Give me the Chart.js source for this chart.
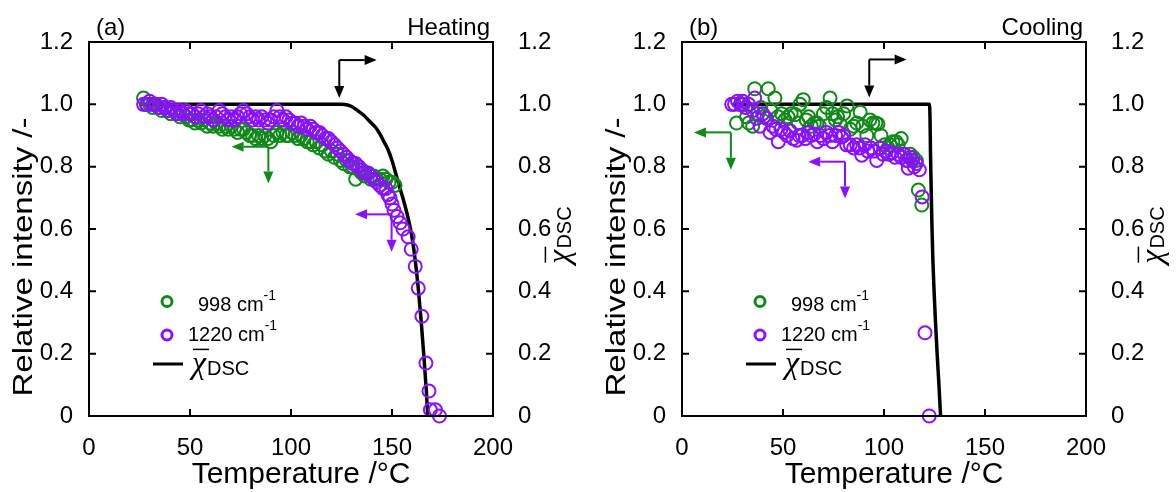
<!DOCTYPE html>
<html>
<head>
<meta charset="utf-8">
<script src="https://cdn.jsdelivr.net/npm/chart.js@4.4.0/dist/chart.umd.min.js"></script>
<style>
html, body { margin: 0; padding: 0; background: #fff; }
#wrap { position: relative; width: 1176px; height: 492px; overflow: hidden; }
.panel { position: absolute; top: 0; height: 492px; }
</style>
</head>
<body>
<div id="wrap">
  <div class="panel" style="left:0;width:590px"><canvas id="chartA"></canvas></div>
  <div class="panel" style="left:593px;width:583px"><canvas id="chartB"></canvas></div>
</div>
<script>
// axis ticks
const xTicks = [0, 50, 100, 150, 200];
const yTicks = [0, 0.2, 0.4, 0.6, 0.8, 1.0, 1.2];

// (a) heating - 998 cm-1
const heatTemp998 = [27,28.5,30,31.5,33,34.5,36,37.5,39,40.5,42,43.5,45,46.5,48,49.5,51,52.5,54,55.5,57,58.5,60,61.5,63,64.5,66,67.5,69,70.5,72,73.5,75,76.5,78,79.5,81,82.5,84,85.5,87,88.5,90,91.5,93,94.5,96,97.5,99,100.5,102,103.5,105,106.5,108,109.5,111,112.5,114,115.5,117,118.5,120,121.5,123,124.5,126,127.5,129,130.5,132,133.5,135,136.5,138,139.5,141,142.5,144,145.5,147,148.5,150,151.5];
const heatInt998 = [1.02,1.00,1.00,0.99,1.00,0.99,0.98,0.99,0.98,0.97,0.98,0.97,0.96,0.97,0.96,0.95,0.95,0.94,0.95,0.94,0.95,0.93,0.94,0.93,0.94,0.93,0.92,0.93,0.92,0.93,0.92,0.91,0.92,0.92,0.91,0.90,0.90,0.89,0.90,0.89,0.90,0.89,0.88,0.90,0.91,0.90,0.91,0.90,0.90,0.91,0.90,0.89,0.90,0.89,0.88,0.88,0.87,0.88,0.86,0.87,0.85,0.84,0.85,0.83,0.84,0.82,0.81,0.82,0.80,0.80,0.76,0.79,0.78,0.77,0.78,0.76,0.77,0.76,0.76,0.77,0.76,0.75,0.75,0.74];

// (a) heating - 1220 cm-1
const heatTemp1220 = [27,28.5,30,31.5,33,34.5,36,37.5,39,40.5,42,43.5,45,46.5,48,49.5,51,52.5,54,55.5,57,58.5,60,61.5,63,64.5,66,67.5,69,70.5,72,73.5,75,76.5,78,79.5,81,82.5,84,85.5,87,88.5,90,91.5,93,94.5,96,97.5,99,100.5,102,103.5,105,106.5,108,109.5,111,112.5,114,115.5,117,118.5,120,121.5,123,124.5,126,127.5,129,130.5,132,133.5,135,136.5,138,139.5,141,142.5,144,145.5,147,148,149,150,151,152.5,154,155.5,158,159.5,161.5,163,164.8,166.8,168.3,169,171.5,173.5];
const heatInt1220 = [1.00,1.00,1.01,1.00,1.00,0.99,1.00,0.99,0.98,0.99,0.98,0.97,0.98,0.97,0.98,0.97,0.97,0.96,0.97,0.98,0.96,0.97,0.96,0.95,0.96,0.98,0.97,0.96,0.95,0.96,0.95,0.96,0.97,0.98,0.97,0.96,0.95,0.96,0.95,0.96,0.95,0.94,0.95,0.96,0.98,0.96,0.95,0.96,0.95,0.94,0.94,0.93,0.94,0.93,0.92,0.93,0.92,0.91,0.91,0.90,0.89,0.89,0.88,0.87,0.86,0.85,0.84,0.83,0.82,0.81,0.81,0.80,0.79,0.78,0.78,0.77,0.76,0.75,0.74,0.73,0.73,0.71,0.70,0.68,0.66,0.64,0.62,0.60,0.575,0.535,0.48,0.41,0.32,0.17,0.08,0.02,0.02,0.00];

// (a) heating - DSC crystallinity (right axis)
const heatTempDSC = [25,125,128,130,133,136,139,142,144,146,148,150,152,154,156,158,160,161.5,163,164.5,165.8,167,167.7];
const heatDSC = [1,1,0.998,0.993,0.98,0.965,0.945,0.925,0.905,0.88,0.855,0.82,0.775,0.73,0.685,0.635,0.57,0.5,0.41,0.3,0.19,0.08,0];

// (b) cooling - 998 cm-1
const coolTemp998 = [27,29,30.5,32,33,35,36,37.5,39,40.5,42.7,44,46,47.5,49.3,51,52.5,54,56,57.5,58.4,60,61.5,62.7,64,65.5,66.8,68,70,71.6,73.3,74.5,76,77,78.4,80,81.7,83.3,85,86.5,88.2,89.5,91.5,93,94.5,96,97,98.5,100.3,102,103,104.4,106,107,108.5,110,111.8,113,114.5,116,117,118.7];
const coolInt998 = [0.94,1.00,1.00,0.96,0.94,0.93,1.05,0.97,0.99,0.96,1.05,0.98,1.02,0.96,0.97,0.95,0.96,0.97,0.967,0.94,1.00,1.015,0.95,0.96,0.93,0.94,0.94,0.93,0.97,0.99,1.02,0.97,0.95,0.96,0.935,0.97,0.995,0.92,0.93,0.94,0.975,0.93,0.90,0.95,0.94,0.94,0.937,0.90,0.87,0.86,0.87,0.88,0.88,0.87,0.89,0.84,0.82,0.84,0.83,0.82,0.725,0.677];

// (b) cooling - 1220 cm-1
const coolTemp1220 = [24.6,26,27.5,29,30,31.5,33,35,36,37,38.6,40,41.9,43.6,45,46.5,47.7,49,50.5,52,53.5,55,56.8,58,59.5,61,62.5,64,65.5,67,68.5,70,71.5,73,74.5,76,77.5,79,80,81.5,83.3,85,86.5,88,89,90.6,92,93.5,95,96.4,98,99.5,101,102.5,104,105.5,107,108.5,110,111,112,113,114,115,116,117.5,118.9,120.3,122.4];
const coolInt1220 = [1.00,1.00,1.01,1.00,1.01,0.99,1.00,0.98,1.02,0.955,0.93,0.97,0.955,0.91,0.93,0.92,0.88,0.92,0.91,0.90,0.915,0.89,0.885,0.90,0.90,0.89,0.91,0.90,0.905,0.88,0.90,0.89,0.91,0.90,0.88,0.90,0.91,0.895,0.90,0.87,0.87,0.86,0.87,0.86,0.837,0.87,0.85,0.86,0.85,0.82,0.86,0.84,0.85,0.84,0.845,0.83,0.84,0.83,0.84,0.82,0.795,0.83,0.82,0.80,0.81,0.79,0.703,0.267,0.0];

// (b) cooling - DSC crystallinity (right axis)
const coolTempDSC = [25,122.5,122.8,123,123.3,123.7,124.2,124.8,125.5,126.3,127.2,128];
const coolDSC = [1,1,0.95,0.85,0.75,0.62,0.5,0.4,0.3,0.2,0.1,0];

// arrows pointing to the axis each series belongs to: corner, horizontal tip (temp), vertical tip (value)
const heatArrows = [
  { t: 123.9, v: 1.142, tipT: 142.4, tipV: 1.02, color: '#000000' },
  { t: 88.8, v: 0.864, tipT: 70.6, tipV: 0.746, color: '#11891a' },
  { t: 149.8, v: 0.647, tipT: 131.7, tipV: 0.527, color: '#8a10ff' }
];
const coolArrows = [
  { t: 92.7, v: 1.144, tipT: 111.2, tipV: 1.022, color: '#000000' },
  { t: 24.2, v: 0.91, tipT: 5.9, tipV: 0.79, color: '#11891a' },
  { t: 80.7, v: 0.816, tipT: 62.5, tipV: 0.698, color: '#8a10ff' }
];

const GREEN = '#11891a';
const PURPLE = '#8a10ff';
const SANS = "'Liberation Sans', Arial, sans-serif";

function toPoints(xs, ys) {
  return xs.map((x, i) => ({ x: x, y: ys[i] }));
}

function drawArrow(ctx, x1, y1, x2, y2, color) {
  const ang = Math.atan2(y2 - y1, x2 - x1);
  const head = 12, half = 5;
  const bx = x2 - head * Math.cos(ang), by = y2 - head * Math.sin(ang);
  ctx.strokeStyle = color;
  ctx.fillStyle = color;
  ctx.lineWidth = 2;
  ctx.beginPath();
  ctx.moveTo(x1, y1);
  ctx.lineTo(bx, by);
  ctx.stroke();
  ctx.beginPath();
  ctx.moveTo(x2, y2);
  ctx.lineTo(bx - half * Math.sin(ang), by + half * Math.cos(ang));
  ctx.lineTo(bx + half * Math.sin(ang), by - half * Math.cos(ang));
  ctx.closePath();
  ctx.fill();
}

// chi with overline + DSC subscript, starting at x with baseline y
function drawChi(ctx, x, y, chiSize, subSize) {
  ctx.fillStyle = '#000';
  ctx.strokeStyle = '#000';
  ctx.textAlign = 'left';
  ctx.textBaseline = 'alphabetic';
  ctx.font = 'italic ' + chiSize + "px 'Liberation Serif', 'DejaVu Serif', serif";
  const w = ctx.measureText('χ').width;
  ctx.fillText('χ', x, y - 2);
  ctx.lineWidth = 1.5;
  ctx.beginPath();
  ctx.moveTo(x + 1, y - chiSize * 0.8);
  ctx.lineTo(x + w + 3, y - chiSize * 0.8);
  ctx.stroke();
  ctx.font = subSize + 'px ' + SANS;
  ctx.fillText('DSC', x + w + 1, y);
  return w + 1 + ctx.measureText('DSC').width;
}

function chiWidth(ctx, chiSize, subSize) {
  ctx.font = 'italic ' + chiSize + "px 'Liberation Serif', 'DejaVu Serif', serif";
  const w = ctx.measureText('χ').width;
  ctx.font = subSize + 'px ' + SANS;
  return w + 1 + ctx.measureText('DSC').width;
}

function makePanel(id, letter, mode, d998, d1220, dDsc, arrows, rightW) {
  const decor = {
    id: 'decor',
    afterDraw(chart) {
      const ctx = chart.ctx;
      const a = chart.chartArea;
      const xs = chart.scales.x, ys = chart.scales.y;
      ctx.save();

      // frame and inward ticks
      ctx.strokeStyle = '#000';
      ctx.lineWidth = 2;
      ctx.strokeRect(a.left, a.top, a.right - a.left, a.bottom - a.top);
      ctx.beginPath();
      xTicks.slice(1, -1).forEach(t => {
        const px = xs.getPixelForValue(t);
        ctx.moveTo(px, a.bottom); ctx.lineTo(px, a.bottom - 7);
        ctx.moveTo(px, a.top); ctx.lineTo(px, a.top + 7);
      });
      yTicks.slice(1, -1).forEach(t => {
        const py = ys.getPixelForValue(t);
        ctx.moveTo(a.left, py); ctx.lineTo(a.left + 7, py);
        ctx.moveTo(a.right, py); ctx.lineTo(a.right - 7, py);
      });
      ctx.stroke();

      // arrows
      arrows.forEach(ar => {
        const cx = xs.getPixelForValue(ar.t), cy = ys.getPixelForValue(ar.v);
        drawArrow(ctx, cx, cy, xs.getPixelForValue(ar.tipT), cy, ar.color);
        drawArrow(ctx, cx, cy, cx, ys.getPixelForValue(ar.tipV), ar.color);
      });

      // panel letter and mode
      ctx.fillStyle = '#000';
      ctx.font = '24px ' + SANS;
      ctx.textBaseline = 'alphabetic';
      ctx.textAlign = 'left';
      ctx.fillText(letter, a.left + 7, 35);
      ctx.textAlign = 'right';
      ctx.fillText(mode, a.right - 3, 35);

      // legend
      const lx = a.left;
      ctx.lineWidth = 3;
      ctx.strokeStyle = GREEN;
      ctx.beginPath(); ctx.arc(lx + 78, 301.5, 5, 0, Math.PI * 2); ctx.stroke();
      ctx.strokeStyle = PURPLE;
      ctx.beginPath(); ctx.arc(lx + 78, 335, 5, 0, Math.PI * 2); ctx.stroke();
      ctx.textAlign = 'left';
      ctx.fillStyle = '#000';
      ctx.font = '20px ' + SANS;
      ctx.fillText('998 cm', lx + 109, 311);
      let w = ctx.measureText('998 cm').width;
      ctx.font = '14px ' + SANS;
      ctx.fillText('-1', lx + 109 + w, 300);
      ctx.font = '20px ' + SANS;
      ctx.fillText('1220 cm', lx + 99, 341);
      w = ctx.measureText('1220 cm').width;
      ctx.font = '14px ' + SANS;
      ctx.fillText('-1', lx + 99 + w, 330);
      ctx.strokeStyle = '#000';
      ctx.lineWidth = 3;
      ctx.beginPath(); ctx.moveTo(lx + 64, 364); ctx.lineTo(lx + 94, 364); ctx.stroke();
      drawChi(ctx, lx + 103, 375, 32, 20);

      // x title
      ctx.fillStyle = '#000';
      ctx.font = '30px ' + SANS;
      ctx.textAlign = 'center';
      ctx.textBaseline = 'middle';
      ctx.fillText('Temperature /°C', (a.left + a.right) / 2 + 10, 475);

      // left y title (rotated, slightly stretched along the text)
      ctx.save();
      ctx.translate(a.left - 65, 257);
      ctx.rotate(-Math.PI / 2);
      ctx.scale(1.18, 1);
      ctx.font = '28px ' + SANS;
      ctx.fillText('Relative intensity /-', 0, 0);
      ctx.restore();

      // right y title
      ctx.save();
      ctx.translate(a.right + 67, 235);
      ctx.rotate(-Math.PI / 2);
      const tw = chiWidth(ctx, 32, 20);
      drawChi(ctx, -tw / 2, 11, 32, 20);
      ctx.restore();

      ctx.restore();
    }
  };

  const tickFont = { family: SANS, size: 24 };
  const yFmt = v => (Math.abs(v) < 1e-9 ? '0' : v.toFixed(1));

  return new Chart(document.getElementById(id).getContext('2d'), {
    type: 'scatter',
    data: {
      datasets: [
        {
          label: 'DSC',
          data: toPoints(dDsc[0], dDsc[1]),
          yAxisID: 'y2',
          showLine: true,
          borderColor: '#000',
          borderWidth: 3.5,
          pointRadius: 0,
          cubicInterpolationMode: 'monotone',
          clip: false,
          order: 3
        },
        {
          label: '998 cm-1',
          data: toPoints(d998[0], d998[1]),
          borderColor: GREEN,
          backgroundColor: 'rgba(0,0,0,0)',
          pointRadius: 6.5,
          pointBorderWidth: 2,
          clip: false,
          order: 2
        },
        {
          label: '1220 cm-1',
          data: toPoints(d1220[0], d1220[1]),
          borderColor: PURPLE,
          backgroundColor: 'rgba(0,0,0,0)',
          pointRadius: 6.5,
          pointBorderWidth: 2,
          clip: false,
          order: 1
        }
      ]
    },
    options: {
      responsive: true,
      maintainAspectRatio: false,
      animation: false,
      layout: { padding: { top: 42, left: 0, right: 0, bottom: 0 } },
      plugins: { legend: { display: false }, tooltip: { enabled: false } },
      scales: {
        x: {
          type: 'linear', min: 0, max: 200,
          grid: { display: false }, border: { display: false },
          ticks: { stepSize: 50, font: tickFont, color: '#000', padding: 10, maxRotation: 0 },
          afterFit: s => { s.height = 76; }
        },
        y: {
          position: 'left', min: 0, max: 1.2,
          grid: { display: false }, border: { display: false },
          ticks: { stepSize: 0.2, font: tickFont, color: '#000', padding: 8, callback: yFmt },
          afterFit: s => { s.width = 89; }
        },
        y2: {
          position: 'right', min: 0, max: 1.2,
          grid: { display: false }, border: { display: false },
          ticks: { stepSize: 0.2, font: tickFont, color: '#000', padding: 17, callback: yFmt },
          afterFit: s => { s.width = rightW; }
        }
      }
    },
    plugins: [decor]
  });
}

makePanel('chartA', '(a)', 'Heating',
  [heatTemp998, heatInt998], [heatTemp1220, heatInt1220], [heatTempDSC, heatDSC], heatArrows, 97);
makePanel('chartB', '(b)', 'Cooling',
  [coolTemp998, coolInt998], [coolTemp1220, coolInt1220], [coolTempDSC, coolDSC], coolArrows, 90);
</script>
</body>
</html>
